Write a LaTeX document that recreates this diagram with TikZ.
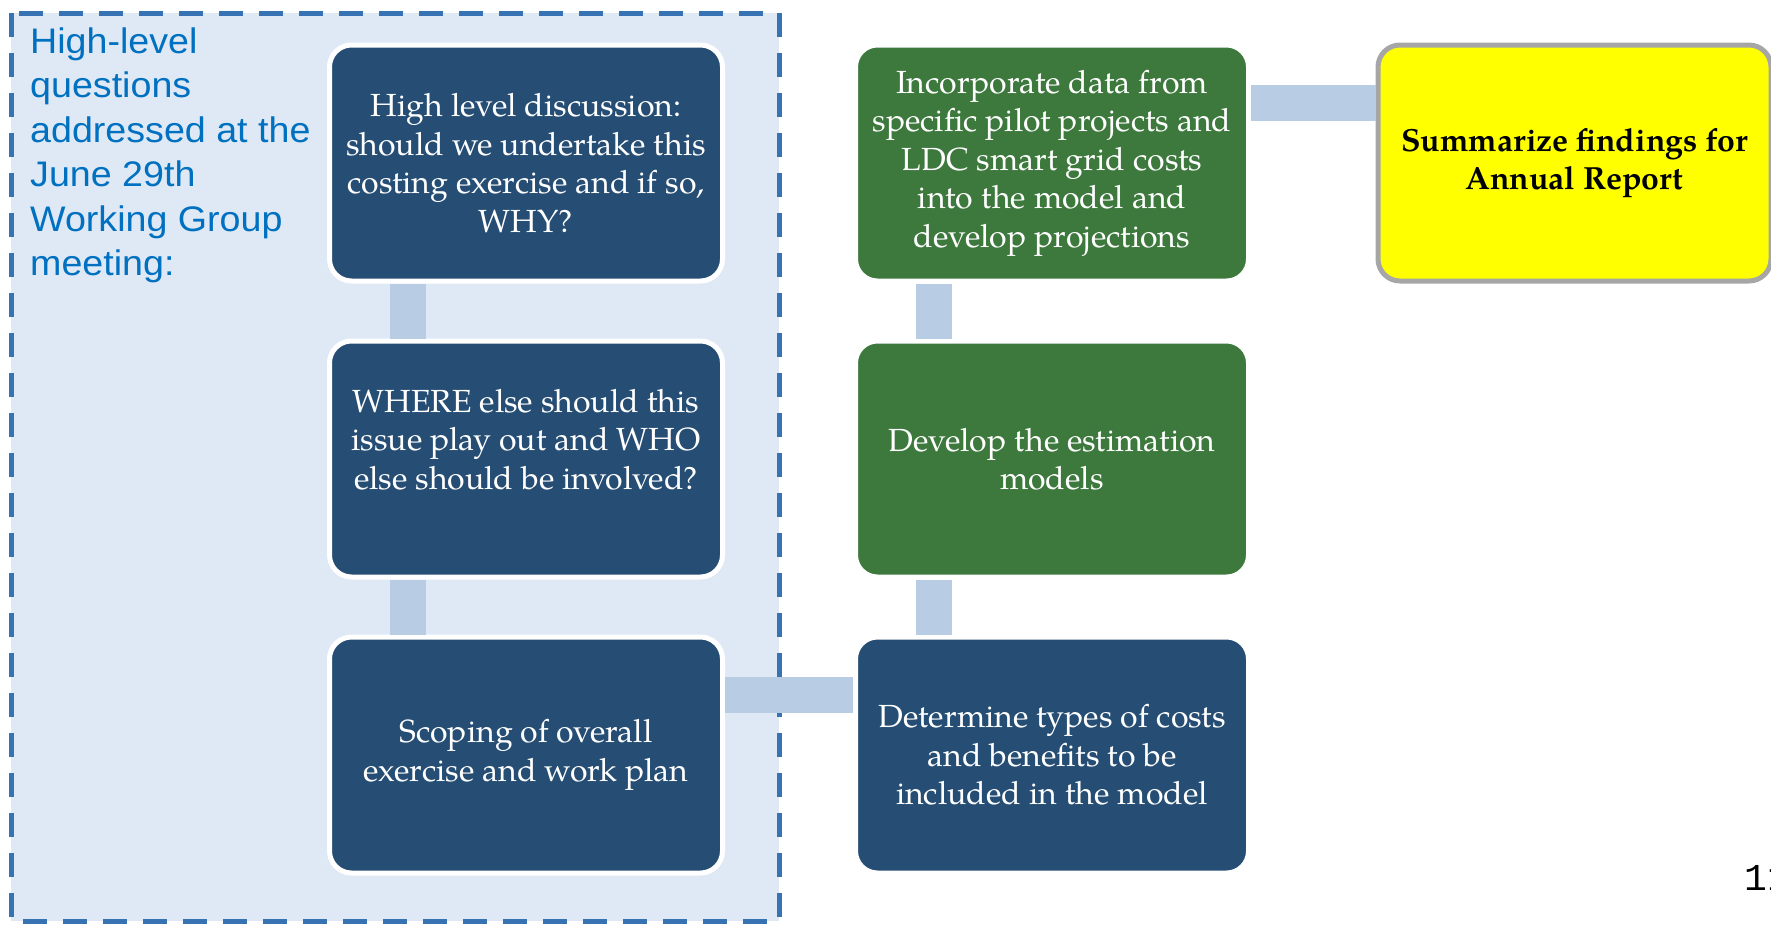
\documentclass[tikz,border=0pt]{standalone}
\usepackage{fontspec}
\setmainfont{texgyrepagella}[Extension=.otf,UprightFont=*-regular,BoldFont=*-bold]
\newfontfamily\arialf{Liberation Sans}[FakeStretch=1.06]
\newfontfamily\monof{Liberation Mono}
\definecolor{navyb}{RGB}{38,78,116}
\definecolor{greenb}{RGB}{61,121,61}
\definecolor{connc}{RGB}{184,204,228}
\definecolor{framefill}{RGB}{223,233,245}
\definecolor{framedash}{RGB}{55,115,178}
\definecolor{lefttext}{RGB}{0,112,192}
\definecolor{ybox}{RGB}{255,255,0}
\definecolor{ygray}{RGB}{166,166,166}
\tikzset{
  boxbase/.style={rectangle, rounded corners=22pt, minimum width=393pt, minimum height=236pt,
    line width=5pt, inner sep=0pt, align=center, font=\fontsize{32}{38.5}\selectfont},
  navybox/.style={boxbase, draw=white, fill=navyb, text=white},
  greenbox/.style={boxbase, draw=white, fill=greenb, text=white},
  yellowbox/.style={boxbase, draw=ygray, fill=ybox, text=black, font=\fontsize{32}{38.5}\selectfont\bfseries},
  conn/.style={draw=connc, line width=36pt},
}
\begin{document}
\begin{tikzpicture}[x=1pt,y=-1pt]
\useasboundingbox (0,0) rectangle (1771,924);
% frame
\draw[fill=framefill, draw=framedash, line width=5pt, dash pattern=on 24pt off 16pt] (11,13) rectangle (779,921);
\node[anchor=base west, inner sep=0pt, align=left, text=lefttext, font=\arialf\fontsize{35.5}{44.5}\selectfont] (lt) at (30,275.5)
  {High-level\\questions\\addressed at the\\June 29th\\Working Group\\meeting:};
% boxes
\node[navybox] (b1) at (526,163) {High level discussion:\\should we undertake this\\costing exercise and if so,\\WHY?};
\node[navybox] (b2) at (526,459) {};
\node[text=white, align=center, inner sep=0pt, font=\fontsize{32}{38.5}\selectfont] (b2t) at (526,439.5)
  {WHERE else should this\\issue play out and WHO\\else should be involved?};
\node[navybox] (b3) at (526,755) {Scoping of overall\\exercise and work plan};
\node[greenbox] (g1) at (1052,163) {Incorporate data from\\specific pilot projects and\\LDC smart grid costs\\into the model and\\develop projections};
\node[greenbox] (g2) at (1052,459) {Develop the estimation\\models};
\node[navybox] (b4) at (1052,755) {Determine types of costs\\and benefits to be\\included in the model};
\node[yellowbox] (ys) at (1574.5,163) {Summarize findings for\\Annual Report};
% connectors
\draw[conn] ([xshift=-118pt]b1.south) -- ([xshift=-118pt]b2.north);
\draw[conn] ([xshift=-118pt]b2.south) -- ([xshift=-118pt]b3.north);
\draw[conn] ([yshift=60pt]b3.east) -- ([yshift=60pt]b4.west);
\draw[conn] ([xshift=-118pt]b4.north) -- ([xshift=-118pt]g2.south);
\draw[conn] ([xshift=-118pt]g2.north) -- ([xshift=-118pt]g1.south);
\draw[conn] ([yshift=60pt]g1.east) -- ([yshift=60pt]ys.west);
% page number
\node[anchor=base west, inner sep=0pt, font=\monof\fontsize{38}{40}\selectfont] (pg) at (1744,890) {11};
\end{tikzpicture}
\end{document}
